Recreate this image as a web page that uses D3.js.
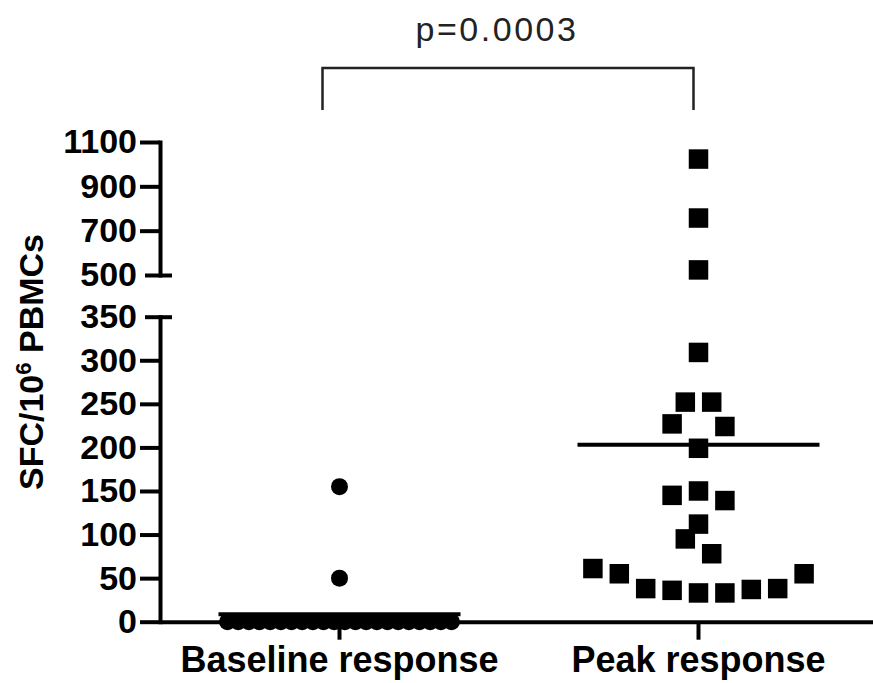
<!DOCTYPE html>
<html>
<head>
<meta charset="utf-8">
<script src="https://cdn.jsdelivr.net/npm/d3@7"></script>
<style>
  body { margin: 0; background: #fff; }
  text { font-family: "Liberation Sans", Arial, sans-serif; }
</style>
</head>
<body>
<script>
// Categories and values (SFC per 10^6 PBMCs), in data order
var groups = ["Baseline response", "Peak response"];
var baselineValues = [155, 50, 0, 0, 0, 0, 0, 0, 0, 0, 0, 0, 0, 0, 0, 0, 0, 0, 0, 0, 0, 0, 0, 0];
var peakValues = [1023, 757, 523, 309, 252, 252, 199, 224, 227, 150, 139, 145, 112,
                  95, 78, 33, 33, 36, 37, 38, 38, 55, 55, 61];
var lowTicks = [0, 50, 100, 150, 200, 250, 300, 350];
var highTicks = [500, 700, 900, 1100];
var pLabel = "p=0.0003";

var width = 873, height = 683;

var svg = d3.select("body").append("svg")
    .attr("width", width)
    .attr("height", height);

// x: one band per group
var xScale = d3.scaleBand().domain(groups).range([160, 878]).padding(0);
function xc(g) { return xScale(g) + xScale.bandwidth() / 2; }

// broken y axis: two linear segments
var yLow = d3.scaleLinear().domain([0, 350]).range([621.7, 316.7]);
var yHigh = d3.scaleLinear().domain([500, 1100]).range([275, 142]);
function yPos(v) { return v <= 350 ? yLow(v) : yHigh(v); }

// Scatter layout: bin points vertically, spread each bin sideways
function spread(values, binH, step, maxSpan) {
    var pts = values.map(function(v) { return {v: v, y: yPos(v)}; });
    var y0 = d3.max(pts, function(d) { return d.y; });
    var bins = d3.group(pts, function(d) { return Math.floor((y0 - d.y) / binH + 1e-6); });
    var out = [];
    bins.forEach(function(b) {
        var n = b.length;
        var s = n > 1 ? Math.min(step, maxSpan / (n - 1)) : step;
        b.forEach(function(p, k) {
            var slot;
            if (n % 2) slot = k === 0 ? 0 : (k % 2 ? 1 : -1) * Math.ceil(k / 2);
            else slot = (k % 2 ? 1 : -1) * (Math.floor(k / 2) + 0.5);
            out.push({v: p.v, y: p.y, dx: slot * s});
        });
    });
    return out;
}

var series = [
    {group: groups[0], values: baselineValues, shape: d3.symbolCircle, size: Math.PI * 8.5 * 8.5},
    {group: groups[1], values: peakValues, shape: d3.symbolSquare, size: 19.5 * 19.5}
];

// ---- y axes ----
var yAxisLow = d3.axisLeft(yLow).tickValues(lowTicks).tickFormat(d3.format("d"))
    .tickSize(20).tickSizeOuter(0).tickPadding(3);
var yAxisHigh = d3.axisLeft(yHigh).tickValues(highTicks).tickFormat(d3.format("d"))
    .tickSize(20).tickSizeOuter(0).tickPadding(3);

[yAxisLow, yAxisHigh].forEach(function(ax) {
    var g = svg.append("g")
        .attr("transform", "translate(160,0)")
        .call(ax);
    g.select(".domain").attr("stroke", "#000").attr("stroke-width", 4).attr("stroke-linecap", "square");
    g.selectAll(".tick line").attr("stroke", "#000").attr("stroke-width", 4);
    g.selectAll(".tick text")
        .attr("fill", "#000")
        .style("font-size", "34px")
        .style("font-weight", "bold");
    // end caps at the break
    g.selectAll(".tick line")
        .filter(function(d) { return d === 350 || d === 500; })
        .attr("x1", 12).attr("x2", -15);
});

// ---- x axis ----
var xAxis = d3.axisBottom(xScale).tickSize(18).tickSizeOuter(0).tickPadding(7);
var gx = svg.append("g")
    .attr("transform", "translate(0," + yLow(0) + ")")
    .call(xAxis);
gx.select(".domain").attr("stroke", "#000").attr("stroke-width", 4);
gx.selectAll(".tick line").attr("stroke", "#000").attr("stroke-width", 4);
gx.selectAll(".tick text")
    .attr("fill", "#000")
    .style("font-size", "36px")
    .style("font-weight", "bold");

// ---- y title ----
var yt = svg.append("text")
    .attr("transform", "rotate(-90)")
    .attr("x", -362)
    .attr("y", 43)
    .attr("text-anchor", "middle")
    .style("font-size", "34px")
    .style("font-weight", "bold")
    .attr("fill", "#000");
yt.append("tspan").text("SFC/10");
yt.append("tspan").attr("dy", -12).style("font-size", "22px").text("6");
yt.append("tspan").attr("dy", 12).text(" PBMCs");

// ---- points ----
series.forEach(function(s) {
    var cx = xc(s.group);
    var pts = spread(s.values, 28.5, 26.4, 224);
    svg.append("g").selectAll("path")
        .data(pts)
        .enter().append("path")
        .attr("d", d3.symbol().type(s.shape).size(s.size))
        .attr("transform", function(d) { return "translate(" + (cx + d.dx) + "," + d.y + ")"; })
        .attr("fill", "#000");

    // mean line
    var m = d3.mean(s.values);
    svg.append("line")
        .attr("x1", cx - 121).attr("x2", cx + 121)
        .attr("y1", yPos(m)).attr("y2", yPos(m))
        .attr("stroke", "#000").attr("stroke-width", 4);
});

// ---- significance bracket ----
var bx1 = xc(groups[0]) - 17, bx2 = xc(groups[1]) - 5;
svg.append("path")
    .attr("d", "M" + bx1 + ",110V68H" + bx2 + "V110")
    .attr("fill", "none")
    .attr("stroke", "#222")
    .attr("stroke-width", 2.5);
svg.append("text")
    .attr("x", 497)
    .attr("y", 41)
    .attr("text-anchor", "middle")
    .style("font-size", "34px")
    .style("letter-spacing", "2.5px")
    .attr("fill", "#222")
    .text(pLabel);
</script>
</body>
</html>
